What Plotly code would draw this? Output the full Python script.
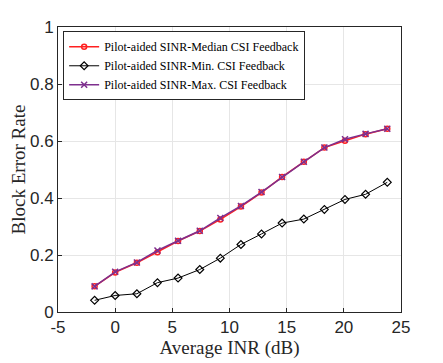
import plotly.graph_objects as go

inr_db = [-1.8, 0.0, 1.9, 3.7, 5.5, 7.4, 9.2, 11.0, 12.8, 14.6, 16.5, 18.3, 20.1, 21.9, 23.8]

bler_median = [0.090, 0.139, 0.173, 0.210, 0.249, 0.284, 0.325, 0.370, 0.419, 0.474, 0.527, 0.577, 0.601, 0.624, 0.643]
bler_min = [0.041, 0.058, 0.064, 0.103, 0.119, 0.149, 0.189, 0.237, 0.274, 0.312, 0.326, 0.360, 0.395, 0.413, 0.455]
bler_max = [0.090, 0.141, 0.174, 0.216, 0.250, 0.285, 0.330, 0.372, 0.421, 0.474, 0.527, 0.577, 0.606, 0.625, 0.643]

x_ticks = [-5, 0, 5, 10, 15, 20, 25]
x_ticktext = ["-5", "0", "5", "10", "15", "20", "25"]
y_ticks = [0, 0.2, 0.4, 0.6, 0.8, 1]
y_ticktext = ["0", "0.2", "0.4", "0.6", "0.8", "1"]

SERIF = "Liberation Serif, Times New Roman, serif"
SANS = "Liberation Sans, Arial, sans-serif"

fig = go.Figure()

fig.add_trace(go.Scatter(
    x=inr_db, y=bler_median,
    mode="lines+markers",
    name="Pilot-aided SINR-Median CSI Feedback",
    line=dict(color="#FF2020", width=1.5),
    marker=dict(symbol="circle-open", size=5, color="#FF2020", line=dict(width=1.5)),
))
fig.add_trace(go.Scatter(
    x=inr_db, y=bler_min,
    mode="lines+markers",
    name="Pilot-aided SINR-Min. CSI Feedback",
    line=dict(color="black", width=1),
    marker=dict(symbol="diamond-open", size=6, color="black", line=dict(width=1.2)),
))
fig.add_trace(go.Scatter(
    x=inr_db, y=bler_max,
    mode="lines+markers",
    name="Pilot-aided SINR-Max. CSI Feedback",
    line=dict(color="#7E2F8E", width=1.5),
    marker=dict(symbol="x-thin-open", size=6, color="#7E2F8E", line=dict(width=1.5, color="#7E2F8E")),
))

axis_common = dict(
    showgrid=True,
    gridcolor="#E6E6E6",
    gridwidth=1,
    showline=True,
    linecolor="#262626",
    linewidth=1,
    mirror=True,
    ticks="inside",
    ticklen=4,
    tickcolor="#262626",
    zeroline=False,
    automargin=False,
    tickfont=dict(family=SANS, size=17, color="#262626"),
)

# page body has an 8px margin, so the figure is a bit smaller than the window
fig.update_layout(
    width=435,
    height=355,
    margin=dict(l=50, r=42, t=19, b=51),
    paper_bgcolor="white",
    plot_bgcolor="white",
    xaxis=dict(
        range=[-5, 25],
        tickvals=x_ticks,
        ticktext=x_ticktext,
        title=dict(text="Average INR (dB)", font=dict(family=SERIF, size=19, color="#262626"), standoff=0),
        **axis_common,
    ),
    yaxis=dict(
        range=[0, 1],
        tickvals=y_ticks,
        ticktext=y_ticktext,
        title=dict(text="Block Error Rate", font=dict(family=SERIF, size=19, color="#262626"), standoff=10),
        **axis_common,
    ),
    legend=dict(
        x=0.015, y=0.985,
        xanchor="left", yanchor="top",
        bgcolor="white",
        bordercolor="#262626",
        borderwidth=1,
        font=dict(family=SERIF, size=12, color="black"),
        tracegroupgap=0,
        itemwidth=30,
    ),
    showlegend=True,
)

fig.write_html("out.html")
